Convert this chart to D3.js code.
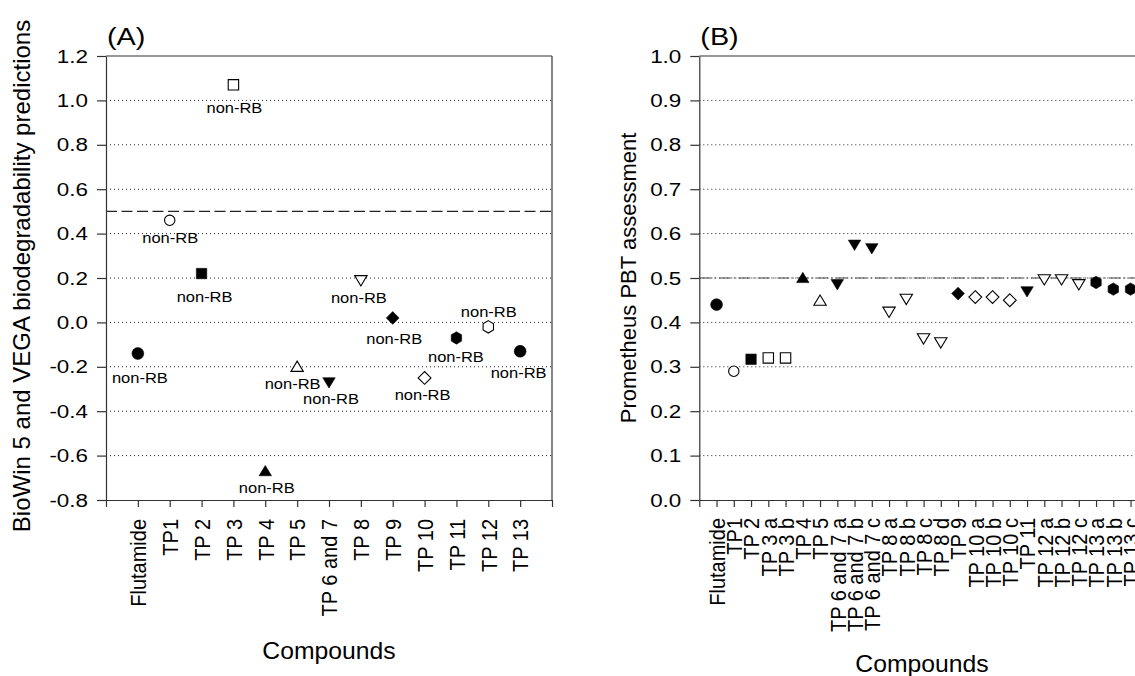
<!DOCTYPE html>
<html><head><meta charset="utf-8">
<script src="https://cdn.jsdelivr.net/npm/d3@7"></script>
<style>
body{margin:0;background:#fff;}
svg text{font-family:"Liberation Sans",Arial,sans-serif;fill:#000;}
</style></head>
<body><svg id="c" width="1135" height="676"></svg>
<script>
// ---------- Panel A data ----------
const compoundsA = ["Flutamide","TP1","TP 2","TP 3","TP 4","TP 5","TP 6 and 7","TP 8","TP 9","TP 10","TP 11","TP 12","TP 13"];
const valuesA = [-0.14, 0.46, 0.22, 1.07, -0.67, -0.20, -0.27, 0.19, 0.02, -0.25, -0.07, -0.02, -0.13];
const markersA = ["circleF","circleO","squareF","squareO","triUpF","triUpO","triDownF","triDownO","diamondF","diamondO","hexF","hexO","circleF"];
const labelsA = ["non-RB","non-RB","non-RB","non-RB","non-RB","non-RB","non-RB","non-RB","non-RB","non-RB","non-RB","non-RB","non-RB"];
const labelOffsetA = [[2,25],[0.5,18],[3,23],[1,23],[1.5,17],[-4.5,17],[2,17],[-2,18],[1.5,21],[-2,17],[-0.5,19],[0.5,-15],[-1.5,22]];
const yTicksA = [-0.8,-0.6,-0.4,-0.2,0.0,0.2,0.4,0.6,0.8,1.0,1.2];
const yTickLabelsA = ["-0.8","-0.6","-0.4","-0.2","0.0","0.2","0.4","0.6","0.8","1.0","1.2"];
const thresholdA = 0.5;

// ---------- Panel B data ----------
const compoundsB = ["Flutamide","TP1","TP 2","TP 3 a","TP 3 b","TP 4","TP 5","TP 6 and 7 a","TP 6 and 7 b","TP 6 and 7 c","TP 8 a","TP 8 b","TP 8 c","TP 8 d","TP 9","TP 10 a","TP 10 b","TP 10 c","TP 11","TP 12 a","TP 12 b","TP 12 c","TP 13 a","TP 13 b","TP 13 c"];
const valuesB = [0.44, 0.29, 0.317, 0.32, 0.32, 0.50, 0.449, 0.486, 0.575, 0.567, 0.424, 0.453, 0.364, 0.355, 0.465, 0.457, 0.457, 0.45, 0.47, 0.497, 0.497, 0.486, 0.49, 0.475, 0.475];
const markersB = ["circleF","circleO","squareF","squareO","squareO","triUpF","triUpO","triDownF","triDownF","triDownF","triDownO","triDownO","triDownO","triDownO","diamondF","diamondO","diamondO","diamondO","triDownF","triDownO","triDownO","triDownO","hexF","hexF","hexF"];
const yTicksB = [0,0.1,0.2,0.3,0.4,0.5,0.6,0.7,0.8,0.9,1.0];
const yTickLabelsB = ["0.0","0.1","0.2","0.3","0.4","0.5","0.6","0.7","0.8","0.9","1.0"];
const thresholdB = 0.5;

const svg = d3.select("#c");
const AX = "#333";

function shapePath(t){
  const k = t.slice(0,-1);
  let pts;
  if(k==="circle"){ const r = t.endsWith("F")?5.9:5.2; return `M${r},0A${r},${r} 0 1,1 ${-r},0A${r},${r} 0 1,1 ${r},0Z`; }
  if(k==="square") pts=[[-5.2,-5.2],[5.2,-5.2],[5.2,5.2],[-5.2,5.2]];
  if(k==="triUp") pts=[[0,-5.7],[6.2,4.6],[-6.2,4.6]];
  if(k==="triDown") pts=[[0,5.7],[6.2,-4.6],[-6.2,-4.6]];
  if(k==="diamond") pts=[[0,-6.4],[6.4,0],[0,6.4],[-6.4,0]];
  if(k==="hex") pts=d3.range(6).map(i=>{const a=(-90+60*i)*Math.PI/180;return [6*Math.cos(a),6.2*Math.sin(a)];});
  return "M"+pts.map(p=>p.join(",")).join("L")+"Z";
}

function panel(o){
  const g = svg.append("g");
  const x = d3.scaleLinear().domain([0,o.n+1]).range([o.x0,o.x1]);
  const y = d3.scaleLinear().domain(o.yDomain).range([500,56]);
  // gridlines
  g.selectAll(".grid").data(o.yTicks.slice(1,-1)).join("line")
    .attr("x1",o.x0).attr("x2",o.x1).attr("y1",d=>y(d)).attr("y2",d=>y(d))
    .attr("stroke","#222").attr("stroke-width",1).attr("stroke-dasharray","1,3");
  // threshold
  g.append("line").attr("x1",o.x0).attr("x2",o.x1).attr("y1",y(o.thr)).attr("y2",y(o.thr))
    .attr("stroke",o.thrColor).attr("stroke-width",1.2).attr("stroke-dasharray",o.thrDash);
  // frame
  g.append("line").attr("x1",o.x0).attr("x2",o.x1).attr("y1",56).attr("y2",56).attr("stroke",AX).attr("stroke-width",1.2);
  if(o.rightBorder) g.append("line").attr("x1",o.x1).attr("x2",o.x1).attr("y1",56).attr("y2",500).attr("stroke",AX).attr("stroke-width",1.2);
  // y axis
  const ya = g.append("g").attr("transform",`translate(${o.x0},0)`)
    .call(d3.axisLeft(y).tickValues(o.yTicks).tickFormat((d,i)=>o.yLabels[i]).tickSize(9).tickSizeOuter(0).tickPadding(9));
  ya.selectAll("path,line").attr("stroke",AX).attr("stroke-width",1.2);
  ya.selectAll("text").style("font-size","19px").attr("font-family","Liberation Sans, Arial, sans-serif")
    .attr("x",-18/1.18).attr("transform","scale(1.18,1)");
  // x axis
  const xt = d3.range(0,o.n+2);
  const xa = g.append("g").attr("transform","translate(0,500)")
    .call(d3.axisBottom(x).tickValues(xt).tickFormat(d=>(d>=1&&d<=o.n)?o.cats[d-1]:"").tickSize(7).tickSizeOuter(0));
  xa.selectAll("path,line").attr("stroke",AX).attr("stroke-width",1.2);
  xa.selectAll("text").style("font-size","20px").attr("font-family","Liberation Sans, Arial, sans-serif")
    .attr("transform","scale(1.08,1) rotate(-90)").attr("x",-o.xLabOff).attr("y",0).attr("dy","0.36em").style("text-anchor","end");
  // markers
  g.selectAll(".m").data(o.values).join("path")
    .attr("transform",(d,i)=>`translate(${x(i+1)},${y(d)})`)
    .attr("d",(d,i)=>shapePath(o.markers[i]))
    .attr("fill",(d,i)=>o.markers[i].endsWith("F")?"#000":"#fff")
    .attr("stroke","#000").attr("stroke-width",(d,i)=>o.markers[i].endsWith("F")?0.6:1.1);
  // labels
  if(o.labels){
    g.selectAll(".lab").data(o.values).join("text")
      .attr("transform",(d,i)=>`translate(${x(i+1)+o.labelOffset[i][0]},${y(d)+o.labelOffset[i][1]+5}) scale(1.1,1)`)
      .attr("text-anchor","middle").style("font-size","15px").text((d,i)=>o.labels[i]);
  }
  // titles
  g.append("text").attr("transform",`translate(${o.x0+1},45) scale(1.2,1)`).style("font-size","24px").text(o.tag);
  g.append("text").attr("transform",`translate(${o.ylx},${o.yly}) rotate(-90)`).attr("text-anchor","middle")
    .style("font-size",o.ylSize+"px").text(o.ylabel);
  g.append("text").attr("transform",`translate(${o.xlx},${o.xly}) scale(1.03,1)`).attr("text-anchor","middle").style("font-size","24px").text("Compounds");
}

panel({n:compoundsA.length, cats:compoundsA, values:valuesA, markers:markersA, labels:labelsA, labelOffset:labelOffsetA,
  x0:106, x1:552, yDomain:[-0.8,1.2], yTicks:yTicksA, yLabels:yTickLabelsA, thr:thresholdA, thrColor:"#222", thrDash:"11,4.5",
  rightBorder:true, xLabOff:19, tag:"(A)", ylabel:"BioWin 5 and VEGA biodegradability predictions", ylx:30, yly:276, ylSize:24,
  xlx:329, xly:659});

panel({n:compoundsB.length, cats:compoundsB, values:valuesB, markers:markersB, labels:null,
  x0:699.3, x1:699.3+17.25*26, yDomain:[0,1], yTicks:yTicksB, yLabels:yTickLabelsB, thr:thresholdB, thrColor:"#444", thrDash:"12,3,1.5,3",
  rightBorder:false, xLabOff:18, tag:"(B)", ylabel:"Prometheus PBT assessment", ylx:636, yly:278, ylSize:22,
  xlx:922, xly:672});
</script></body></html>
